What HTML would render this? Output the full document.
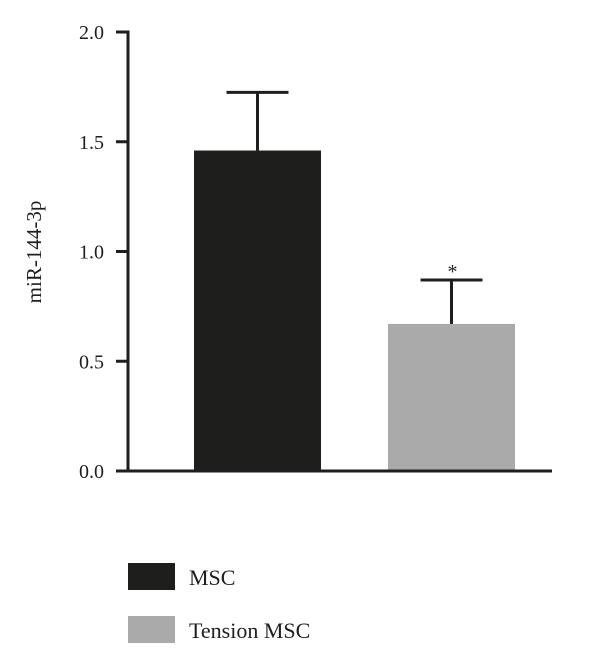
<!DOCTYPE html>
<html><head><meta charset="utf-8"><style>
html,body{margin:0;padding:0;background:#fff;}
svg{display:block;font-family:"Liberation Serif",serif;}
</style></head><body>
<svg id="chart" width="600" height="658" viewBox="0 0 600 658" xmlns="http://www.w3.org/2000/svg">
<g id="axes"></g>
<g id="bars"></g>
<text transform="translate(41,252) rotate(-90)" text-anchor="middle" font-size="21" fill="#1e1e1e">miR-144-3p</text>
<g>
<rect x="128" y="563" width="47" height="27" fill="#1e1e1c"/>
<text x="189" y="585" font-size="22" fill="#1e1e1e">MSC</text>
<rect x="128" y="616" width="47" height="27" fill="#aaaaaa"/>
<text x="189" y="638" font-size="22" fill="#1e1e1e">Tension MSC</text>
</g>
</svg>
<script>
const categories = ["MSC", "Tension MSC"];
const means = [1.46, 0.67];
const errors = [0.265, 0.20];
const colors = ["#1e1e1c", "#aaaaaa"];
const significance = ["", "*"];
const yTicks = [0, 0.5, 1.0, 1.5, 2.0];
const yTickLabels = ["0.0", "0.5", "1.0", "1.5", "2.0"];

const NS = "http://www.w3.org/2000/svg";
const y0 = 471, yTop = 32, yMax = 2.0;
function yScale(v){ return y0 - (v / yMax) * (y0 - yTop); }
const axisX = 128, axisEnd = 552;
const slotStart = 160, slotW = 194, barW = 127;
function xCenter(i){ return slotStart + slotW * i + slotW / 2 + 0.5; }
function mk(tag, attrs, parent){ const e = document.createElementNS(NS, tag); for (const k in attrs) e.setAttribute(k, attrs[k]); parent.appendChild(e); return e; }

const axes = document.getElementById("axes");
const bars = document.getElementById("bars");
let l = mk("line", {x1: axisX, y1: yTop - 1.5, x2: axisX, y2: y0 + 1.5, stroke: "#1e1e1e", "stroke-width": 3}, axes);


yTicks.forEach((t, i) => {
  const y = yScale(t);
  const tk = mk("line", {x1: 116, y1: y, x2: axisX, y2: y, stroke: "#1e1e1e", "stroke-width": 3}, axes);
  
  
  const tx = mk("text", {x: 104, y: y + 7, "text-anchor": "end", "font-size": 20, fill: "#1e1e1e"}, axes);
  tx.textContent = yTickLabels[i];
  
  
});

categories.forEach((c, i) => {
  const cx = xCenter(i);
  const top = yScale(means[i]);
  const r = mk("rect", {x: cx - barW / 2, y: top, width: barW, height: y0 - top, fill: colors[i]}, bars);
  
  
  const et = yScale(means[i] + errors[i]);
  const ev = mk("line", {x1: cx, y1: top, x2: cx, y2: et, stroke: "#1e1e1e", "stroke-width": 3}, bars);
  
  
  const ec = mk("line", {x1: cx - 31, y1: et, x2: cx + 31, y2: et, stroke: "#1e1e1e", "stroke-width": 3}, bars);
  
  
  if (significance[i]) {
    const s = mk("text", {x: cx + 1, y: et - 2, "text-anchor": "middle", "font-size": 20, fill: "#1e1e1e"}, bars);
    s.textContent = significance[i];
    
    
  }
});
const xl = mk("line", {x1: 116, y1: y0, x2: axisEnd, y2: y0, stroke: "#1e1e1e", "stroke-width": 3}, bars);


</script>
</body></html>
